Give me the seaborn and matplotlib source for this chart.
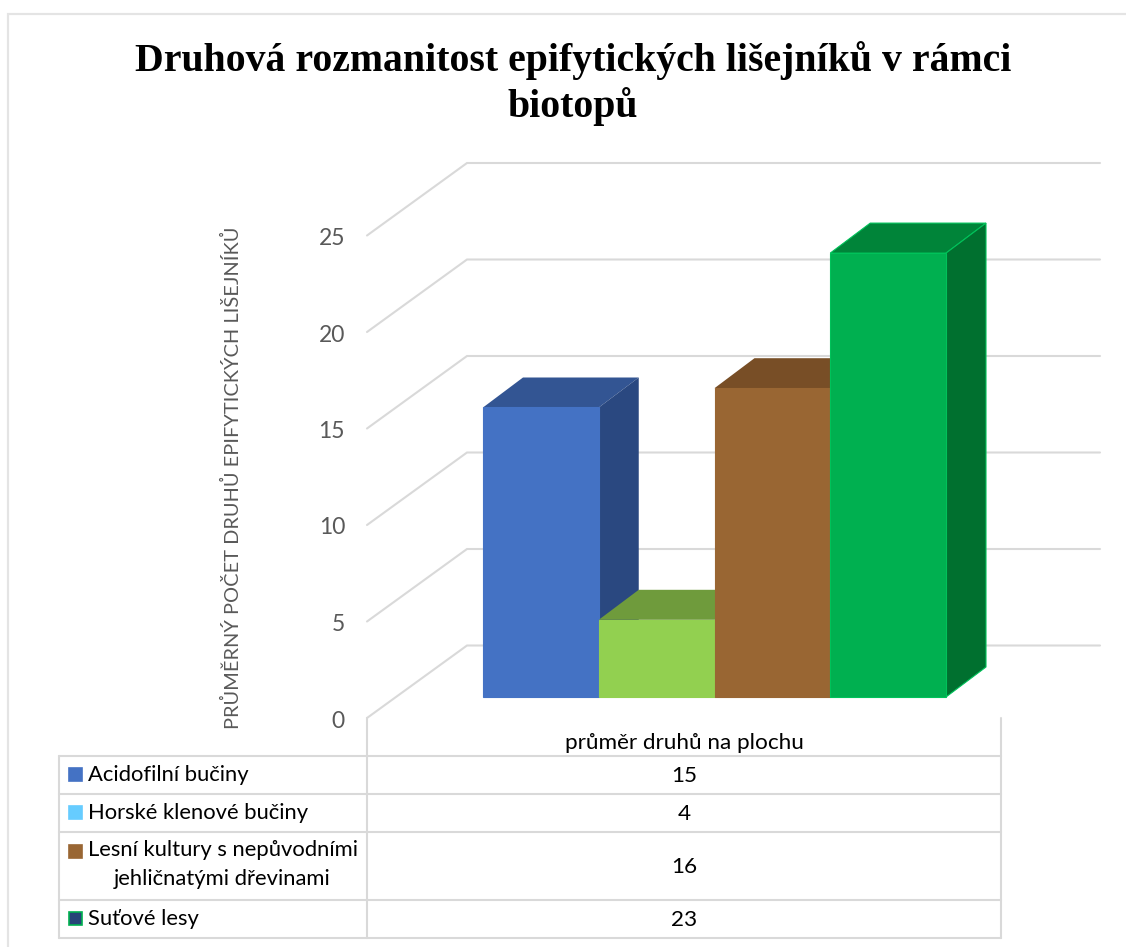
import matplotlib
matplotlib.use("Agg")
import matplotlib.pyplot as plt
import pandas as pd
import seaborn as sns
from matplotlib.patches import Polygon, Rectangle

biotopes = ["Acidofilní bučiny", "Horské klenové bučiny",
            "Lesní kultury s nepůvodními jehličnatými dřevinami", "Suťové lesy"]
species = [15, 4, 16, 23]
ticks = [0, 5, 10, 15, 20, 25]

front_colors = ["#4472C4", "#92D050", "#996633", "#00B050"]
top_colors = ["#335593", "#6F9B3C", "#784E26", "#008439"]
side_colors = ["#2A4880", "#5F8533", "#664220", "#00702F"]
edge_colors = ["#4472C4", "#92D050", "#996633", "#00C25A"]
key_colors = ["#4472C4", "#66CCFF", "#996633", "#264478"]
key_edges = ["#4472C4", "#66CCFF", "#996633", "#00B050"]

W, H = 1126, 947
GRID = "#D9D9D9"
TEXT = "#595959"
SANS = "Lato"

sns.set_style("white")
plt.rcParams["font.family"] = [SANS, "DejaVu Sans"]

fig = plt.figure(figsize=(W / 100, H / 100), dpi=100)

# overlay in pixel coordinates for the frame and the data table
bg = fig.add_axes([0, 0, 1, 1], zorder=0)
bg.set_xlim(0, W)
bg.set_ylim(H, 0)
bg.axis("off")

# plot plane: bars sit between x=483..946, y=0 at pixel row 697
PX_CAT = 115.75
PX_UNIT = 19.3
left, base = 483, 697
ax = fig.add_axes([left / W, (H - base) / H, 4 * PX_CAT / W, 25 * PX_UNIT / H], zorder=1)
ax.patch.set_alpha(0)

df = pd.DataFrame({"biotop": biotopes, "druhy": species})
sns.barplot(data=df, x="biotop", y="druhy", hue="biotop", palette=front_colors,
            width=1, legend=False, saturation=1, ax=ax)
ax.set_xlim(-0.5, 3.5)
ax.set_ylim(0, 25)
ax.axis("off")

# depth of the fake 3D bars and of the chart floor, in data units
dx = 40 / PX_CAT
dy = 30 / PX_UNIT
wall_x0 = (367 - left) / PX_CAT - 0.5
wall_x1 = (467 - left) / PX_CAT - 0.5
wall_x2 = (1100 - left) / PX_CAT - 0.5
front_shift = (base - 718) / PX_UNIT
back_shift = (base - 645.5) / PX_UNIT

for t in ticks:
    ax.plot([wall_x0, wall_x1, wall_x2],
            [t + front_shift, t + back_shift, t + back_shift],
            color=GRID, lw=1.5, clip_on=False, zorder=1, solid_joinstyle="miter")
    ax.text(wall_x0 - 22 / PX_CAT, t + front_shift - 3 / PX_UNIT, str(t), ha="right", va="center",
            color=TEXT, fontsize=16.5, clip_on=False)

for i, (bar, v) in enumerate(zip(ax.patches, species)):
    x0 = bar.get_x()
    x1 = x0 + bar.get_width()
    top = Polygon([(x0, v), (x0 + dx, v + dy), (x1 + dx, v + dy), (x1, v)],
                  facecolor=top_colors[i], edgecolor="none", clip_on=False, zorder=3 + 3 * i)
    side = Polygon([(x1, 0), (x1 + dx, dy), (x1 + dx, v + dy), (x1, v)],
                   facecolor=side_colors[i], edgecolor="none", clip_on=False, zorder=4 + 3 * i)
    ax.add_patch(top)
    ax.add_patch(side)
    bar.set_zorder(5 + 3 * i)
    bar.set_edgecolor(edge_colors[i])
    bar.set_linewidth(0.8)
    bar.set_clip_on(False)
    if i == 3:
        top.set_edgecolor(edge_colors[i])
        side.set_edgecolor(edge_colors[i])
        top.set_linewidth(0.8)
        side.set_linewidth(0.8)

# outer chart frame, cut off by the screenshot on the right and bottom
bg.plot([8, 8, W], [H, 14, 14], color="#E4E4E4", lw=1.6, solid_joinstyle="miter")

bg.text(573, 61, "Druhová rozmanitost epifytických lišejníků v rámci", ha="center", va="center",
        family="Liberation Serif", weight="bold", fontsize=28.6, color="black")
bg.text(573, 107, "biotopů", ha="center", va="center",
        family="Liberation Serif", weight="bold", fontsize=28.6, color="black")

bg.text(232, 478, "PRŮMĚRNÝ POČET DRUHŮ EPIFYTICKÝCH LIŠEJNÍKŮ", rotation=90, ha="center",
        va="center", color=TEXT, fontsize=14.4)

# data table under the plot
rows = [756, 794, 832, 900, 938]
col_x = [59, 367, 1001]
for y in rows:
    bg.plot([col_x[0], col_x[2]], [y, y], color=GRID, lw=1.5)
bg.plot([col_x[0], col_x[0]], [rows[0], rows[-1]], color=GRID, lw=1.5)
for x in col_x[1:]:
    bg.plot([x, x], [718, rows[-1]], color=GRID, lw=1.5)

bg.text(684.5, 743, "průměr druhů na plochu", ha="center", va="center", color="black", fontsize=16.2)

row_labels = ["Acidofilní bučiny", "Horské klenové bučiny", None, "Suťové lesy"]
for i, v in enumerate(species):
    y0, y1 = rows[i], rows[i + 1]
    mid = (y0 + y1) / 2
    bg.text(684.5, mid + 1, str(v), ha="center", va="center", color="black", fontsize=16.2)
    key_y = mid - 0.5 if i != 2 else 851
    bg.add_patch(Rectangle((68.5, key_y - 6.5), 13, 13, facecolor=key_colors[i],
                           edgecolor=key_edges[i], lw=1.2))
    if row_labels[i]:
        bg.text(88, mid, row_labels[i], ha="left", va="center", color="black", fontsize=15.8)

bg.text(88, 850, "Lesní kultury s nepůvodními", ha="left", va="center", color="black", fontsize=15.8)
bg.text(222, 879, "jehličnatými dřevinami", ha="center", va="center", color="black", fontsize=15.8)

fig.savefig("out.png", dpi=100)
plt.close(fig)
